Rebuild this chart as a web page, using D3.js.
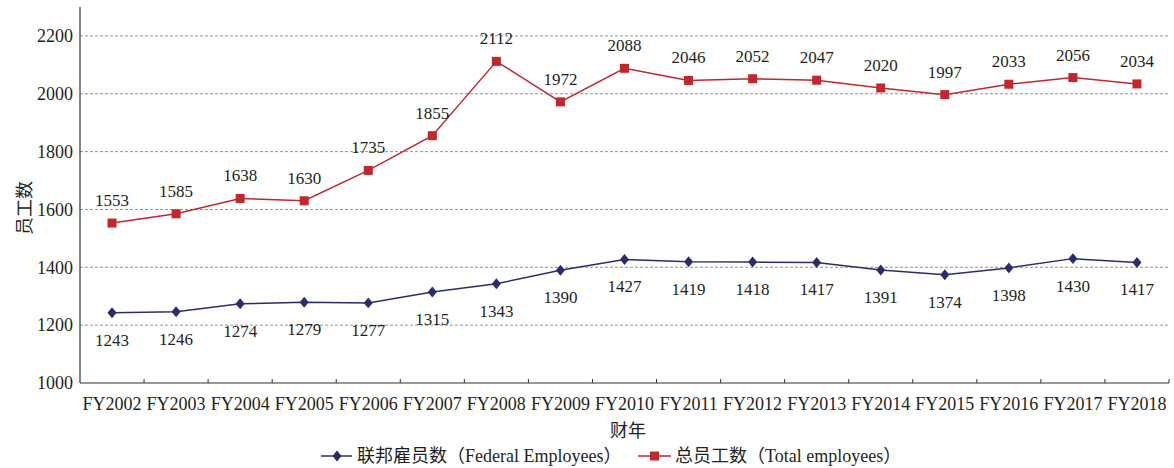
<!DOCTYPE html>
<html><head><meta charset="utf-8">
<script src="https://cdn.jsdelivr.net/npm/d3@7"></script>
<style>body{margin:0;background:#fff}svg{display:block}</style>
</head><body><svg id="c" width="1174" height="468"></svg>
<script>
const categories = ["FY2002","FY2003","FY2004","FY2005","FY2006","FY2007","FY2008","FY2009","FY2010","FY2011","FY2012","FY2013","FY2014","FY2015","FY2016","FY2017","FY2018"];
const federal = [1243,1246,1274,1279,1277,1315,1343,1390,1427,1419,1418,1417,1391,1374,1398,1430,1417];
const total = [1553,1585,1638,1630,1735,1855,2112,1972,2088,2046,2052,2047,2020,1997,2033,2056,2034];
const yTicks = [1000,1200,1400,1600,1800,2000,2200];
const legendCN = ["联邦雇员数", "总员工数"];
const legendEN = ["Federal Employees", "Total employees"];

const svg = d3.select("#c");
const serif = "'Liberation Serif','Times New Roman',serif";
const cjk = "'Noto Sans CJK SC',sans-serif";
const L = 80, R = 1169, T = 7, B = 383;
const x = d3.scaleBand().domain(categories).range([L, R]);
const y = d3.scaleLinear().domain([1000, 2300]).range([B, T]);
const blue = "#2a2d6a", red = "#c1272d", txt = "#231f20";

// grid
svg.append("g").selectAll("line").data(yTicks.filter(d => d > 1000)).join("line")
  .attr("x1", L).attr("x2", R).attr("y1", d => y(d)).attr("y2", d => y(d))
  .attr("stroke", "#777").attr("stroke-width", 0.8).attr("stroke-dasharray", "3,2");

// y axis
svg.append("line").attr("x1", L).attr("x2", L).attr("y1", T).attr("y2", B).attr("stroke", "#333").attr("stroke-width", 1.2);
svg.append("g").selectAll("text").data(yTicks).join("text")
  .attr("x", L - 7).attr("y", d => y(d)).attr("dy", "0.35em").attr("text-anchor", "end")
  .attr("font-family", serif).attr("font-size", 18).attr("fill", txt).text(d => d);

// x axis
svg.append("line").attr("x1", L).attr("x2", R).attr("y1", B).attr("y2", B).attr("stroke", "#333").attr("stroke-width", 1.2);
svg.append("g").selectAll("line").data(categories).join("line")
  .attr("x1", d => x(d) + x.bandwidth()).attr("x2", d => x(d) + x.bandwidth()).attr("y1", B).attr("y2", B - 4).attr("stroke", "#333");
svg.append("g").selectAll("text").data(categories).join("text")
  .attr("x", d => x(d) + x.bandwidth() / 2).attr("y", 410).attr("text-anchor", "middle")
  .attr("font-family", serif).attr("font-size", 18).attr("fill", txt).text(d => d);

// axis titles
svg.append("text").attr("x", 628).attr("y", 437).attr("text-anchor", "middle")
  .attr("font-family", cjk).attr("font-size", 18).attr("fill", txt).text("财年");
svg.append("text").attr("transform", "translate(31,208) rotate(-90)").attr("text-anchor", "middle")
  .attr("font-family", cjk).attr("font-size", 18).attr("fill", txt).text("员工数");

const cx = (d, i) => x(categories[i]) + x.bandwidth() / 2;
const line = d3.line().x((d, i) => cx(d, i)).y(d => y(d));
const diamond = d3.symbol(d3.symbolDiamond2, 58);

// federal
svg.append("path").datum(federal).attr("d", line).attr("fill", "none").attr("stroke", blue).attr("stroke-width", 1.5);
svg.append("g").selectAll("path").data(federal).join("path")
  .attr("d", diamond).attr("transform", (d, i) => `translate(${cx(d, i)},${y(d)}) scale(0.95,1.15)`).attr("fill", blue);
svg.append("g").selectAll("text").data(federal).join("text")
  .attr("x", cx).attr("y", d => y(d) + 33).attr("text-anchor", "middle")
  .attr("font-family", serif).attr("font-size", 17).attr("fill", txt).text(d => d);

// total
svg.append("path").datum(total).attr("d", line).attr("fill", "none").attr("stroke", red).attr("stroke-width", 1.5);
svg.append("g").selectAll("rect").data(total).join("rect")
  .attr("x", (d, i) => cx(d, i) - 4.5).attr("y", d => y(d) - 4.5).attr("width", 9).attr("height", 9).attr("fill", red);
svg.append("g").selectAll("text").data(total).join("text")
  .attr("x", cx).attr("y", d => y(d) - 17).attr("text-anchor", "middle")
  .attr("font-family", serif).attr("font-size", 17).attr("fill", txt).text(d => d);

// legend
function legendText(g, xPos, i) {
  const t = g.append("text").attr("x", xPos).attr("y", 462).attr("font-size", 18).attr("fill", txt);
  t.append("tspan").attr("font-family", cjk).text(legendCN[i] + "（");
  t.append("tspan").attr("font-family", serif).text(legendEN[i]);
  t.append("tspan").attr("font-family", cjk).text("）");
}
const lg = svg.append("g");
lg.append("line").attr("x1", 321).attr("x2", 352).attr("y1", 456).attr("y2", 456).attr("stroke", blue).attr("stroke-width", 1.5);
lg.append("path").attr("d", diamond).attr("transform", "translate(337,456) scale(0.95,1.15)").attr("fill", blue);
legendText(lg, 357, 0);
lg.append("line").attr("x1", 638).attr("x2", 671).attr("y1", 456).attr("y2", 456).attr("stroke", red).attr("stroke-width", 1.5);
lg.append("rect").attr("x", 650).attr("y", 451.5).attr("width", 9).attr("height", 9).attr("fill", red);
legendText(lg, 675, 1);
</script></body></html>
